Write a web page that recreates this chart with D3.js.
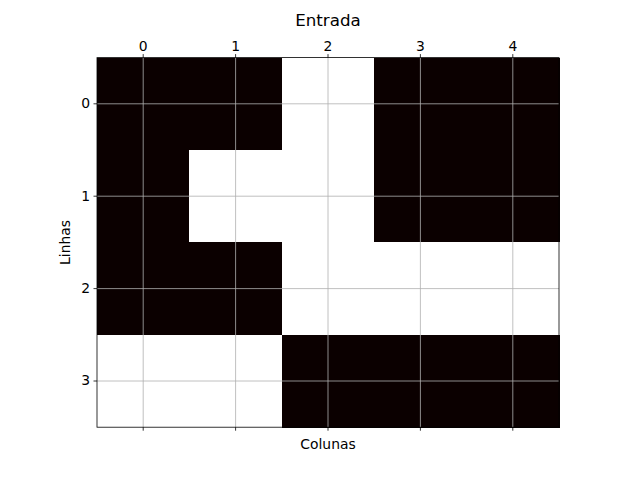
<!DOCTYPE html>
<html><head><meta charset="utf-8">
<script src="https://cdn.jsdelivr.net/npm/d3@7"></script>
<style>body{margin:0;background:#fff}svg{display:block}text{font-family:"DejaVu Sans",sans-serif}</style>
</head><body>
<script>
const rows = [0, 1, 2, 3];
const cols = [0, 1, 2, 3, 4];
const values = [
  [0, 0, 1, 0, 0],
  [0, 1, 1, 0, 0],
  [0, 0, 1, 1, 1],
  [1, 1, 0, 0, 0]
];
const title = "Entrada";
const xLabel = "Colunas";
const yLabel = "Linhas";

const W = 640, H = 480;
const mL = 97, mR = 559, mT = 57.6, mB = 427.2;
const svg = d3.select("body").append("svg").attr("width", W).attr("height", H);

const x = d3.scaleBand().domain(cols).range([mL, mR]).padding(0);
const y = d3.scaleBand().domain(rows).range([mT, mB]).padding(0);
const color = d3.scaleLinear().domain([0, 1]).range(["#0b0000", "#ffffff"]);

const cells = [];
values.forEach((r, i) => r.forEach((v, j) => cells.push({r: rows[i], c: cols[j], v})));
svg.append("g").selectAll("rect").data(cells).join("rect")
  .attr("x", d => x(d.c)).attr("y", d => y(d.r))
  .attr("width", x.bandwidth() + 0.5).attr("height", y.bandwidth() + 0.5)
  .attr("fill", d => color(d.v)).attr("shape-rendering", "crispEdges");

// grid
const g = svg.append("g").attr("stroke", "#b0b0b0").attr("stroke-width", 0.8);
cols.forEach(c => g.append("line").attr("x1", x(c) + x.bandwidth()/2).attr("x2", x(c) + x.bandwidth()/2).attr("y1", mT).attr("y2", mB));
rows.forEach(r => g.append("line").attr("y1", y(r) + y.bandwidth()/2).attr("y2", y(r) + y.bandwidth()/2).attr("x1", mL).attr("x2", mR));

// axes
const xTop = d3.axisTop(x).tickSize(3.5).tickPadding(3.5);
const xBot = d3.axisBottom(x).tickSize(3.5).tickFormat("");
const yL = d3.axisLeft(y).tickSize(3.5).tickPadding(3.5);
function style(sel) {
  sel.select(".domain").remove();
  sel.selectAll("line").attr("stroke", "#000").attr("stroke-width", 0.8);
  sel.selectAll("text").attr("font-size", "13.9px").attr("fill", "#000").attr("font-family", "DejaVu Sans");
}
svg.append("g").attr("transform", `translate(0,${mT})`).call(xTop).call(style);
svg.append("g").attr("transform", `translate(0,${mB})`).call(xBot).call(style);
svg.append("g").attr("transform", `translate(${mL},0)`).call(yL).call(style);

// frame
svg.append("rect").attr("x", mL).attr("y", mT).attr("width", mR - mL).attr("height", mB - mT)
  .attr("fill", "none").attr("stroke", "#000").attr("stroke-width", 0.8);

svg.append("text").attr("x", (mL + mR)/2).attr("y", 26).attr("text-anchor", "middle")
  .attr("font-size", "16.7px").text(title);
svg.append("text").attr("x", (mL + mR)/2).attr("y", 449).attr("text-anchor", "middle")
  .attr("font-size", "13.9px").text(xLabel);
svg.append("text").attr("transform", `translate(70,${(mT + mB)/2}) rotate(-90)`).attr("text-anchor", "middle")
  .attr("font-size", "13.9px").text(yLabel);
</script>
</body></html>
